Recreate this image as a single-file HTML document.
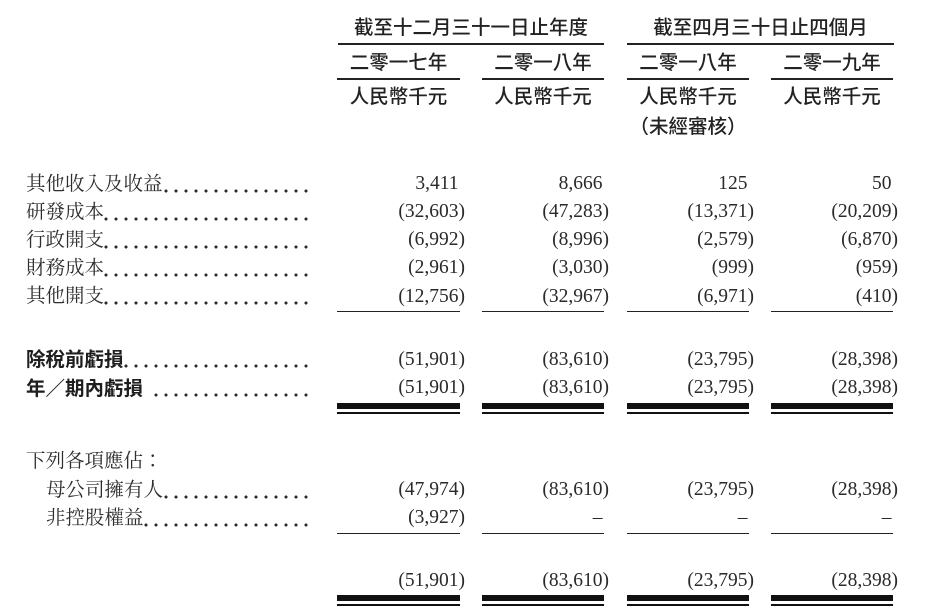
<!DOCTYPE html>
<html>
<head>
<meta charset="utf-8">
<style>
html,body{margin:0;padding:0}
body{width:926px;height:612px;background:#fff;position:relative;overflow:hidden;color:#262626}
.h{position:absolute;font-family:"Liberation Sans","Noto Sans CJK TC","Noto Sans CJK SC",sans-serif;font-size:19.5px;line-height:28px;height:28px;font-weight:500;text-align:center;white-space:nowrap;color:#222}
.l{position:absolute;left:26px;font-family:"Liberation Serif","Noto Serif CJK TC","Noto Serif CJK SC",serif;font-size:19.5px;line-height:28px;height:28px;white-space:nowrap;color:#2e2e2e}
.b{font-family:"Liberation Sans","Noto Sans CJK TC","Noto Sans CJK SC",sans-serif;font-weight:700;color:#1e1e1e}
.d{position:absolute;height:4px;background:radial-gradient(circle at 5px 2px,#2a2a2a 1.3px,transparent 1.8px) right top/10px 4px repeat-x}
.n{position:absolute;font-family:"Liberation Serif",serif;font-size:19.5px;line-height:28px;height:28px;white-space:nowrap;text-align:right;color:#2a2a2a}
.p{padding-right:6.5px}
.ln{position:absolute;height:1.5px;background:#222}
.tk{position:absolute;height:6px;background:#111}
.tn{position:absolute;height:2px;background:#111}
</style>
</head>
<body>

<!-- Header -->
<div class="h" style="left:338px;width:266px;top:13.6px">截至十二月三十一日止年度</div>
<div class="h" style="left:627px;width:267px;top:13.6px">截至四月三十日止四個月</div>
<div class="ln" style="left:338px;width:266px;top:43px"></div>
<div class="ln" style="left:627px;width:267px;top:43px"></div>

<div class="h" style="left:337px;width:123px;top:48.6px">二零一七年</div>
<div class="h" style="left:482px;width:122px;top:48.6px">二零一八年</div>
<div class="h" style="left:627px;width:122px;top:48.6px">二零一八年</div>
<div class="h" style="left:771px;width:122px;top:48.6px">二零一九年</div>

<div class="ln" style="left:337px;width:123px;top:78px"></div>
<div class="ln" style="left:482px;width:122px;top:78px"></div>
<div class="ln" style="left:627px;width:122px;top:78px"></div>
<div class="ln" style="left:771px;width:122px;top:78px"></div>

<div class="h" style="left:337px;width:123px;top:82.6px">人民幣千元</div>
<div class="h" style="left:482px;width:122px;top:82.6px">人民幣千元</div>
<div class="h" style="left:627px;width:122px;top:82.6px">人民幣千元</div>
<div class="h" style="left:771px;width:122px;top:82.6px">人民幣千元</div>
<div class="h" style="left:627px;width:122px;top:112.6px">（未經審核）</div>

<!-- Row 1 -->
<div class="l" style="top:170.6px">其他收入及收益</div>
<div class="d" style="left:164px;width:147px;top:188.5px"></div>
<div class="n p" style="right:461px;top:170px">3,411</div>
<div class="n p" style="right:317px;top:170px">8,666</div>
<div class="n p" style="right:172px;top:170px">125</div>
<div class="n p" style="right:28px;top:170px">50</div>

<!-- Row 2 -->
<div class="l" style="top:198.6px">研發成本</div>
<div class="d" style="left:104px;width:207px;top:216.5px"></div>
<div class="n" style="right:461px;top:198px">(32,603)</div>
<div class="n" style="right:317px;top:198px">(47,283)</div>
<div class="n" style="right:172px;top:198px">(13,371)</div>
<div class="n" style="right:28px;top:198px">(20,209)</div>

<!-- Row 3 -->
<div class="l" style="top:226.6px">行政開支</div>
<div class="d" style="left:104px;width:207px;top:244.5px"></div>
<div class="n" style="right:461px;top:226px">(6,992)</div>
<div class="n" style="right:317px;top:226px">(8,996)</div>
<div class="n" style="right:172px;top:226px">(2,579)</div>
<div class="n" style="right:28px;top:226px">(6,870)</div>

<!-- Row 4 -->
<div class="l" style="top:254.6px">財務成本</div>
<div class="d" style="left:104px;width:207px;top:272.5px"></div>
<div class="n" style="right:461px;top:254px">(2,961)</div>
<div class="n" style="right:317px;top:254px">(3,030)</div>
<div class="n" style="right:172px;top:254px">(999)</div>
<div class="n" style="right:28px;top:254px">(959)</div>

<!-- Row 5 -->
<div class="l" style="top:283.1px">其他開支</div>
<div class="d" style="left:104px;width:207px;top:301px"></div>
<div class="n" style="right:461px;top:282.5px">(12,756)</div>
<div class="n" style="right:317px;top:282.5px">(32,967)</div>
<div class="n" style="right:172px;top:282.5px">(6,971)</div>
<div class="n" style="right:28px;top:282.5px">(410)</div>

<div class="ln" style="left:337px;width:123px;top:310.5px"></div>
<div class="ln" style="left:482px;width:122px;top:310.5px"></div>
<div class="ln" style="left:627px;width:122px;top:310.5px"></div>
<div class="ln" style="left:771px;width:122px;top:310.5px"></div>

<!-- Row 6 -->
<div class="l b" style="top:346.1px">除稅前虧損</div>
<div class="d" style="left:124px;width:187px;top:364px"></div>
<div class="n" style="right:461px;top:345.5px">(51,901)</div>
<div class="n" style="right:317px;top:345.5px">(83,610)</div>
<div class="n" style="right:172px;top:345.5px">(23,795)</div>
<div class="n" style="right:28px;top:345.5px">(28,398)</div>

<!-- Row 7 -->
<div class="l b" style="top:374.6px">年／期內虧損</div>
<div class="d" style="left:154px;width:157px;top:392.5px"></div>
<div class="n" style="right:461px;top:374px">(51,901)</div>
<div class="n" style="right:317px;top:374px">(83,610)</div>
<div class="n" style="right:172px;top:374px">(23,795)</div>
<div class="n" style="right:28px;top:374px">(28,398)</div>

<div class="tk" style="left:337px;width:123px;top:403px"></div>
<div class="tk" style="left:482px;width:122px;top:403px"></div>
<div class="tk" style="left:627px;width:122px;top:403px"></div>
<div class="tk" style="left:771px;width:122px;top:403px"></div>
<div class="tn" style="left:337px;width:123px;top:412px"></div>
<div class="tn" style="left:482px;width:122px;top:412px"></div>
<div class="tn" style="left:627px;width:122px;top:412px"></div>
<div class="tn" style="left:771px;width:122px;top:412px"></div>

<!-- Attribution -->
<div class="l" style="top:447.6px">下列各項應佔：</div>

<div class="l" style="left:46px;top:476.6px">母公司擁有人</div>
<div class="d" style="left:164px;width:147px;top:494.5px"></div>
<div class="n" style="right:461px;top:476px">(47,974)</div>
<div class="n" style="right:317px;top:476px">(83,610)</div>
<div class="n" style="right:172px;top:476px">(23,795)</div>
<div class="n" style="right:28px;top:476px">(28,398)</div>

<div class="l" style="left:46px;top:504.6px">非控股權益</div>
<div class="d" style="left:144px;width:167px;top:522.5px"></div>
<div class="n" style="right:461px;top:504px">(3,927)</div>
<div class="n p" style="right:317px;top:504px">–</div>
<div class="n p" style="right:172px;top:504px">–</div>
<div class="n p" style="right:28px;top:504px">–</div>

<div class="ln" style="left:337px;width:123px;top:532.5px"></div>
<div class="ln" style="left:482px;width:122px;top:532.5px"></div>
<div class="ln" style="left:627px;width:122px;top:532.5px"></div>
<div class="ln" style="left:771px;width:122px;top:532.5px"></div>

<!-- Total -->
<div class="n" style="right:461px;top:567px">(51,901)</div>
<div class="n" style="right:317px;top:567px">(83,610)</div>
<div class="n" style="right:172px;top:567px">(23,795)</div>
<div class="n" style="right:28px;top:567px">(28,398)</div>

<div class="tk" style="left:337px;width:123px;top:595px"></div>
<div class="tk" style="left:482px;width:122px;top:595px"></div>
<div class="tk" style="left:627px;width:122px;top:595px"></div>
<div class="tk" style="left:771px;width:122px;top:595px"></div>
<div class="tn" style="left:337px;width:123px;top:604px"></div>
<div class="tn" style="left:482px;width:122px;top:604px"></div>
<div class="tn" style="left:627px;width:122px;top:604px"></div>
<div class="tn" style="left:771px;width:122px;top:604px"></div>

</body>
</html>
